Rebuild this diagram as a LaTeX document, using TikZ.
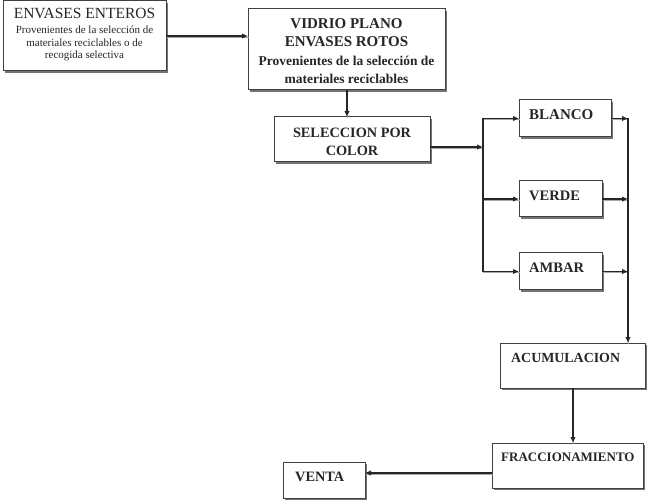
\documentclass[tikz,border=0pt]{standalone}
\usepackage{fontspec}
\setmainfont{Liberation Serif}
\usetikzlibrary{arrows.meta,shadows}
\begin{document}
\begin{tikzpicture}[x=1pt,y=-1pt,
  box/.style={draw=black!75, line width=1pt, fill=white, inner sep=0pt,
    outer sep=0pt, anchor=north west,
    drop shadow={shadow xshift=2pt, shadow yshift=-2pt, fill=black!55, opacity=1}},
  lbl/.style={text=black!85, inner sep=0pt, anchor=west},
  txt/.style={text=black!85, inner sep=0pt, align=center},
  arr/.style={draw=black!85, line width=1.1pt,
    preaction={draw=black!35, line width=1.1pt, -,
      transform canvas={shift={(0.9pt,-1.1pt)}}},
    -{Latex[length=6pt,width=5.5pt]}},
]
\useasboundingbox (0,0) rectangle (647,502);

% boxes
\node[box, minimum width=163pt, minimum height=70pt] (ent) at (3,1) {};
\node[box, minimum width=197pt, minimum height=81pt] (rot) at (248,9) {};
\node[box, minimum width=156pt, minimum height=45pt] (sel) at (274,117) {};
\node[box, minimum width=92pt, minimum height=37pt] (blanco) at (519,100) {};
\node[box, minimum width=83pt, minimum height=36pt] (verde) at (519,181) {};
\node[box, minimum width=83pt, minimum height=37pt] (ambar) at (519,253) {};
\node[box, minimum width=145pt, minimum height=45pt] (acum) at (500,343) {};
\node[box, minimum width=151pt, minimum height=45pt] (frac) at (492,443) {};
\node[box, minimum width=82pt, minimum height=36pt] (venta) at (283,462) {};

% texts
\node[txt, font=\fontsize{11}{12.5}\selectfont] (enttxt) at ([yshift=1pt]ent.center)
  {{\fontsize{15.5}{15}\selectfont ENVASES ENTEROS}\\[2.5pt]
   Provenientes de la selección de\\
   materiales reciclables o de\\
   recogida selectiva};
\node[txt, font=\bfseries\fontsize{13.5}{18.5}\selectfont] (rottxt) at ([yshift=-1.5pt]rot.center)
  {{\fontsize{15}{18.5}\selectfont VIDRIO PLANO}\\
   {\fontsize{15}{18.5}\selectfont ENVASES ROTOS}\\
   Provenientes de la selección de\\
   materiales reciclables};
\node[txt, font=\bfseries\fontsize{14.3}{18}\selectfont] (seltxt) at ([yshift=-2pt]sel.center)
  {SELECCION POR\\COLOR};
\node[lbl, font=\bfseries\fontsize{15}{18}\selectfont] (blancotxt) at (529,115) {BLANCO};
\node[lbl, font=\bfseries\fontsize{14.5}{18}\selectfont] (verdetxt) at (529,196) {VERDE};
\node[lbl, font=\bfseries\fontsize{14.5}{18}\selectfont] (ambartxt) at (529,268) {AMBAR};
\node[lbl, font=\bfseries\fontsize{13.9}{18}\selectfont] (acumtxt) at (511,358) {ACUMULACION};
\node[lbl, font=\bfseries\fontsize{13}{18}\selectfont] (fractxt) at (501,457) {FRACCIONAMIENTO};
\node[lbl, font=\bfseries\fontsize{14.3}{18}\selectfont] (ventatxt) at (295,477) {VENTA};

% connectors
\coordinate (split) at (483,147);
\coordinate (bus) at (628,118.5);

\draw[arr] (ent.east) -- (ent.east -| rot.west);
\draw[arr] (rot.south -| 347,0) -- (sel.north -| 347,0);
\draw[arr] (sel.east |- split) -- (split);
\draw[arr] (split) |- (blanco.west);
\draw[arr] (split) |- (verde.west);
\draw[arr] (split) |- (ambar.west);

\draw[arr] (blanco.east) -- (blanco.east -| bus);
\draw[arr] (verde.east) -- (verde.east -| bus);
\draw[arr] (ambar.east) -- (ambar.east -| bus);
\draw[arr] (bus) -- (bus |- acum.north);

\draw[arr] (acum.south -| 573,0) -- (frac.north -| 573,0);
\draw[arr] (frac.west |- 0,473) -- (venta.east |- 0,473);
\end{tikzpicture}
\end{document}
